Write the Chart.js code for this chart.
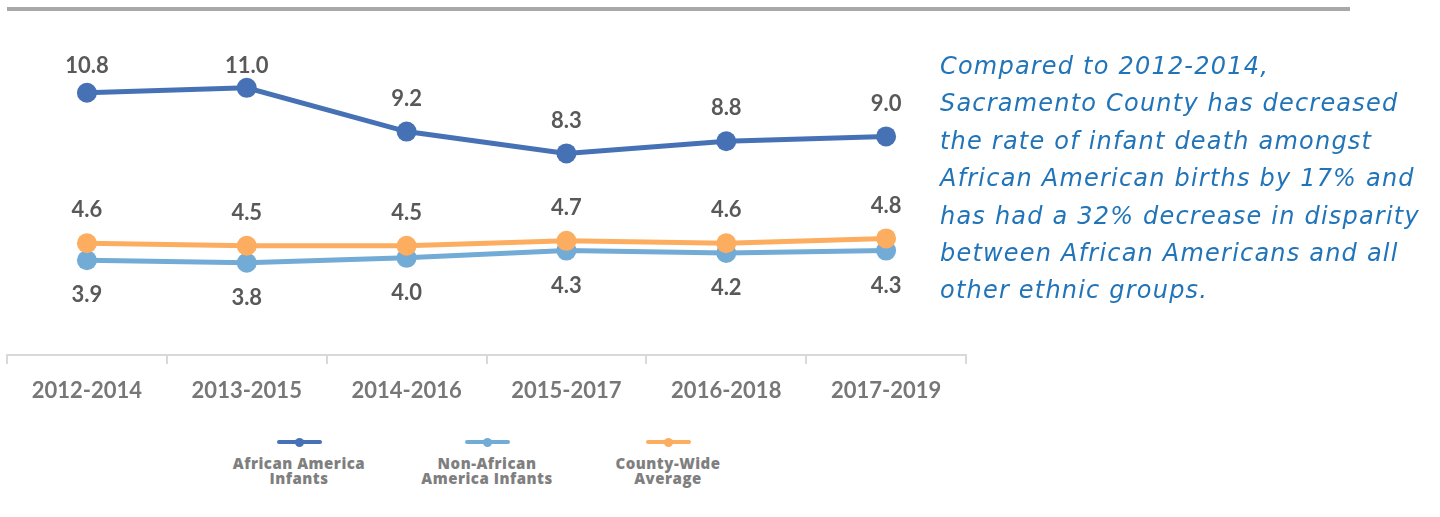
<!DOCTYPE html>
<html>
<head>
<meta charset="utf-8">
<script src="https://cdn.jsdelivr.net/npm/chart.js@4.4.1/dist/chart.umd.min.js"></script>
<style>
  body { margin: 0; background: #fff; width: 1440px; height: 517px; overflow: hidden; position: relative; }
  #topRule { position: absolute; left: 7px; top: 7px; width: 1343px; height: 4px; background: #a8a8a8; }
  #chartBox { position: absolute; left: 0; top: 0; width: 980px; height: 410px; }
  #legend { position: absolute; top: 432px; left: 0; width: 980px; height: 80px; }
  .item { position: absolute; width: 200px; margin-left: -100px; text-align: center; font-family: 'Open Sans', sans-serif; font-weight: 800; font-size: 15px; line-height: 15px; letter-spacing: 0.5px; color: #7f7f7f; }
  .mark { position: relative; width: 45px; height: 4px; border-radius: 2px; margin: 8px auto 12px; }
  .mark span { position: absolute; left: 18px; top: -2.5px; width: 9px; height: 9px; border-radius: 50%; }
  #note { position: absolute; left: 940px; top: 48px; font-family: 'DejaVu Sans', sans-serif; font-style: italic; font-size: 24px; line-height: 37.4px; color: #2274b9; white-space: nowrap; }
</style>
</head>
<body>
<div id="topRule"></div>
<div id="chartBox"><canvas id="lineChart"></canvas></div>
<div id="legend"></div>
<div id="note"><span>Compared to 2012-2014,</span><br><span>Sacramento County has decreased</span><br><span>the rate of infant death amongst</span><br><span>African American births by 17% and</span><br><span>has had a 32% decrease in disparity</span><br><span>between African Americans and all</span><br><span>other ethnic groups.</span></div>
<script>
const periods = ['2012-2014', '2013-2015', '2014-2016', '2015-2017', '2016-2018', '2017-2019'];
const africanAmerican = [10.8, 11.0, 9.2, 8.3, 8.8, 9.0];
const nonAfricanAmerican = [3.9, 3.8, 4.0, 4.3, 4.2, 4.3];
const countyWide = [4.6, 4.5, 4.5, 4.7, 4.6, 4.8];
const seriesNames = [['African America', 'Infants'], ['Non-African', 'America Infants'], ['County-Wide', 'Average']];
const seriesColors = ['#4672b5', '#72abd5', '#fdad5f'];
const legendCenters = [299, 487, 668];

// labels above or below the point
const labelSide = ['above', 'below', 'above'];

const pointLabels = {
    id: 'pointLabels',
    afterDatasetsDraw(chart) {
        const ctx = chart.ctx;
        ctx.save();
        ctx.font = 'bold 22px Lato';
        ctx.fillStyle = '#595959';
        ctx.textAlign = 'center';
        ctx.textBaseline = 'middle';
        chart.data.datasets.forEach((ds, i) => {
            const meta = chart.getDatasetMeta(i);
            meta.data.forEach((pt, j) => {
                let y = labelSide[i] === 'above' ? pt.y - 33 : pt.y + 35;
                if (y < 66) y = 66;
                ctx.fillText(ds.data[j].toFixed(1), pt.x, y);
            });
        });
        ctx.restore();
    }
};

function makeDataset(idx, values, order) {
    return {
        label: seriesNames[idx].join(' '),
        data: values,
        borderColor: seriesColors[idx],
        backgroundColor: seriesColors[idx],
        borderWidth: 5,
        pointRadius: 10,
        pointHoverRadius: 10,
        pointBorderWidth: 0,
        tension: 0,
        order: order
    };
}

new Chart(document.getElementById('lineChart'), {
    type: 'line',
    data: {
        labels: periods,
        datasets: [
            makeDataset(0, africanAmerican, 2),
            makeDataset(1, nonAfricanAmerican, 1),
            makeDataset(2, countyWide, 0)
        ]
    },
    options: {
        responsive: true,
        maintainAspectRatio: false,
        animation: false,
        layout: { autoPadding: false, padding: { left: 7, right: 14, top: 15, bottom: 0 } },
        plugins: { legend: { display: false }, tooltip: { enabled: false } },
        scales: {
            x: {
                offset: true,
                grid: { offset: true, drawOnChartArea: false, drawTicks: true, tickLength: 9, color: '#d9d9d9', lineWidth: 2 },
                border: { color: '#d9d9d9', width: 2 },
                ticks: { color: '#777777', padding: 14, font: { family: 'Lato', size: 22, weight: 'bold' } },
                afterFit(scale) { scale.height = 55; }
            },
            y: { display: false, min: 0, max: 14 }
        }
    },
    plugins: [pointLabels]
});

// legend below the axis: line marker on top, name under it
const legend = document.getElementById('legend');
seriesNames.forEach((name, i) => {
    const item = document.createElement('div');
    item.className = 'item';
    item.style.left = legendCenters[i] + 'px';
    item.innerHTML = '<div class="mark" style="background:' + seriesColors[i] + '"><span style="background:' + seriesColors[i] + '"></span></div>' + name[0] + '<br>' + name[1];
    legend.appendChild(item);
});

// stretch the side note so its longest line is about 475px wide, as in the source
const note = document.getElementById('note');
const widest = Math.max(...Array.from(note.querySelectorAll('span')).map(s => s.getBoundingClientRect().width));
note.style.letterSpacing = ((475 - widest) / 31) + 'px';
</script>
</body>
</html>
